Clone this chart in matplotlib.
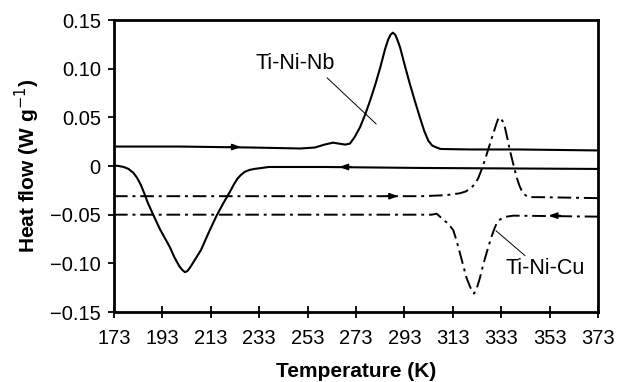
import numpy as np
import matplotlib
matplotlib.use('Agg')
import matplotlib.pyplot as plt

plt.rcParams['font.family'] = ['Liberation Sans', 'DejaVu Sans']

# Ti-Ni-Nb, heating (upper solid curve)
nb_heat_T = [173, 200, 230, 250, 256, 260, 263.5, 266, 268.5, 270.5, 272.5, 274.7, 276.8,
             278.8, 281, 283, 285, 286.3, 287.3, 288.2, 289.2, 290.2, 291.2, 293.2, 295.3,
             297.3, 299.4, 301.2, 302.9, 304.5, 306.3, 308, 320, 340, 373]
nb_heat_Q = [0.020, 0.020, 0.019, 0.018, 0.019, 0.022, 0.024, 0.023, 0.022, 0.023, 0.030,
             0.040, 0.053, 0.067, 0.084, 0.101, 0.120, 0.130, 0.135, 0.137, 0.135, 0.129,
             0.122, 0.103, 0.084, 0.067, 0.050, 0.036, 0.026, 0.021, 0.019, 0.0175, 0.017,
             0.017, 0.016]

# Ti-Ni-Nb, cooling (solid curve near zero)
nb_cool_T = [173, 175, 177, 179, 181, 182.5, 184, 185.5, 187, 189, 192, 194, 196, 198,
             200, 201.3, 202.3, 203.3, 204.5, 206, 209, 212, 215.4, 218, 221, 222.5, 224,
             225.5, 227, 229, 231, 234, 237, 260, 300, 373]
nb_cool_Q = [0.0005, 0.0, -0.001, -0.003, -0.007, -0.012, -0.019, -0.028, -0.038, -0.049,
             -0.065, -0.074, -0.083, -0.094, -0.103, -0.107, -0.109, -0.108, -0.104,
             -0.098, -0.086, -0.069, -0.051, -0.039, -0.026, -0.019, -0.013, -0.009,
             -0.006, -0.004, -0.003, -0.002, -0.001, -0.001, -0.002, -0.003]

# Ti-Ni-Cu, heating (upper dash-dot curve)
cu_heat_T = [173, 250, 300, 310, 316, 318.5, 320.8, 322.5, 323.6, 324.7, 325.6, 327,
             328.4, 329.8, 331.1, 331.7, 332.2, 332.8, 333.6, 334.6, 335.6, 336.6, 337.7,
             338.7, 339.6, 340.5, 341.4, 342.5, 344.2, 349, 373]
cu_heat_Q = [-0.031, -0.031, -0.031, -0.030, -0.028, -0.026, -0.022, -0.017, -0.012,
             -0.005, 0.001, 0.012, 0.023, 0.034, 0.044, 0.048, 0.050, 0.049, 0.046,
             0.039, 0.028, 0.016, 0.005, -0.005, -0.013, -0.020, -0.025, -0.029, -0.032,
             -0.032, -0.033]

# Ti-Ni-Cu, cooling (lower dash-dot curve)
cu_cool_T = [173, 250, 300, 304.3, 306.3, 307.7, 309, 310.5, 312, 313.2, 314.6, 316,
             317.4, 318.7, 320.3, 321.8, 323, 324.2, 325.2, 326.3, 327.7, 329.1, 330.1,
             331.1, 332.5, 334, 335.3, 338, 373]
cu_cool_Q = [-0.050, -0.050, -0.050, -0.050, -0.049, -0.052, -0.055, -0.058, -0.062,
             -0.066, -0.077, -0.090, -0.103, -0.115, -0.125, -0.131, -0.125, -0.115,
             -0.105, -0.095, -0.083, -0.072, -0.065, -0.059, -0.055, -0.053, -0.052,
             -0.051, -0.052]

x_ticks = [173, 193, 213, 233, 253, 273, 293, 313, 333, 353, 373]
y_ticks = [0.15, 0.10, 0.05, 0, -0.05, -0.10, -0.15]
y_tick_labels = ['0.15', '0.10', '0.05', '0', '\u22120.05', '\u22120.10', '\u22120.15']

# arrow marks on the curves: (T, Q, direction)
arrows = [(223, 0.0195, 1), (268.5, -0.001, -1), (288, -0.031, 1), (355, -0.051, -1)]

fig = plt.figure(figsize=(6.18, 3.82), dpi=100)
ax = fig.add_axes([0.1845, 0.1832, 0.7831, 0.7644])

dashdot = (0, (7, 2.5, 1.5, 2.5))
ax.plot(nb_heat_T, nb_heat_Q, color='black', lw=1.5, solid_joinstyle='round')
ax.plot(nb_cool_T, nb_cool_Q, color='black', lw=1.5, solid_joinstyle='round')
ax.plot(cu_heat_T, cu_heat_Q, color='black', lw=1.4, linestyle=dashdot)
ax.plot(cu_cool_T, cu_cool_Q, color='black', lw=1.4, linestyle=dashdot)

for T, Q, d in arrows:
    ax.annotate('', xy=(T + 2.5 * d, Q), xytext=(T - 2.5 * d, Q),
                arrowprops=dict(arrowstyle='-|>,head_length=0.5,head_width=0.18',
                                color='black', lw=1.2, shrinkA=0, shrinkB=0))

ax.text(247.7, 0.105, 'Ti-Ni-Nb', fontsize=15.5, ha='center', va='center')
ax.plot([261.1, 281.3], [0.0905, 0.0433], color='black', lw=0.7)
ax.text(351.1, -0.105, 'Ti-Ni-Cu', fontsize=15.5, ha='center', va='center')
ax.plot([330.9, 342.8], [-0.0666, -0.092], color='black', lw=0.7)

ax.set_xlim(173, 373)
ax.set_ylim(-0.15, 0.15)
ax.set_xticks(x_ticks)
ax.set_yticks(y_ticks)
ax.set_yticklabels(y_tick_labels)
ax.tick_params(axis='x', direction='inout', length=8, width=1.3, labelsize=14.5, pad=8)
ax.tick_params(axis='y', direction='out', length=4, width=1.3, labelsize=14.5, pad=5.5)

for s in ax.spines.values():
    s.set_linewidth(2)

ax.set_xlabel('Temperature (K)', fontsize=15, fontweight='bold', labelpad=10)
ax.set_ylabel('Heat flow (W g$^{-1}$)', fontsize=15, fontweight='bold', labelpad=6)

fig.savefig('out.png', dpi=100)
